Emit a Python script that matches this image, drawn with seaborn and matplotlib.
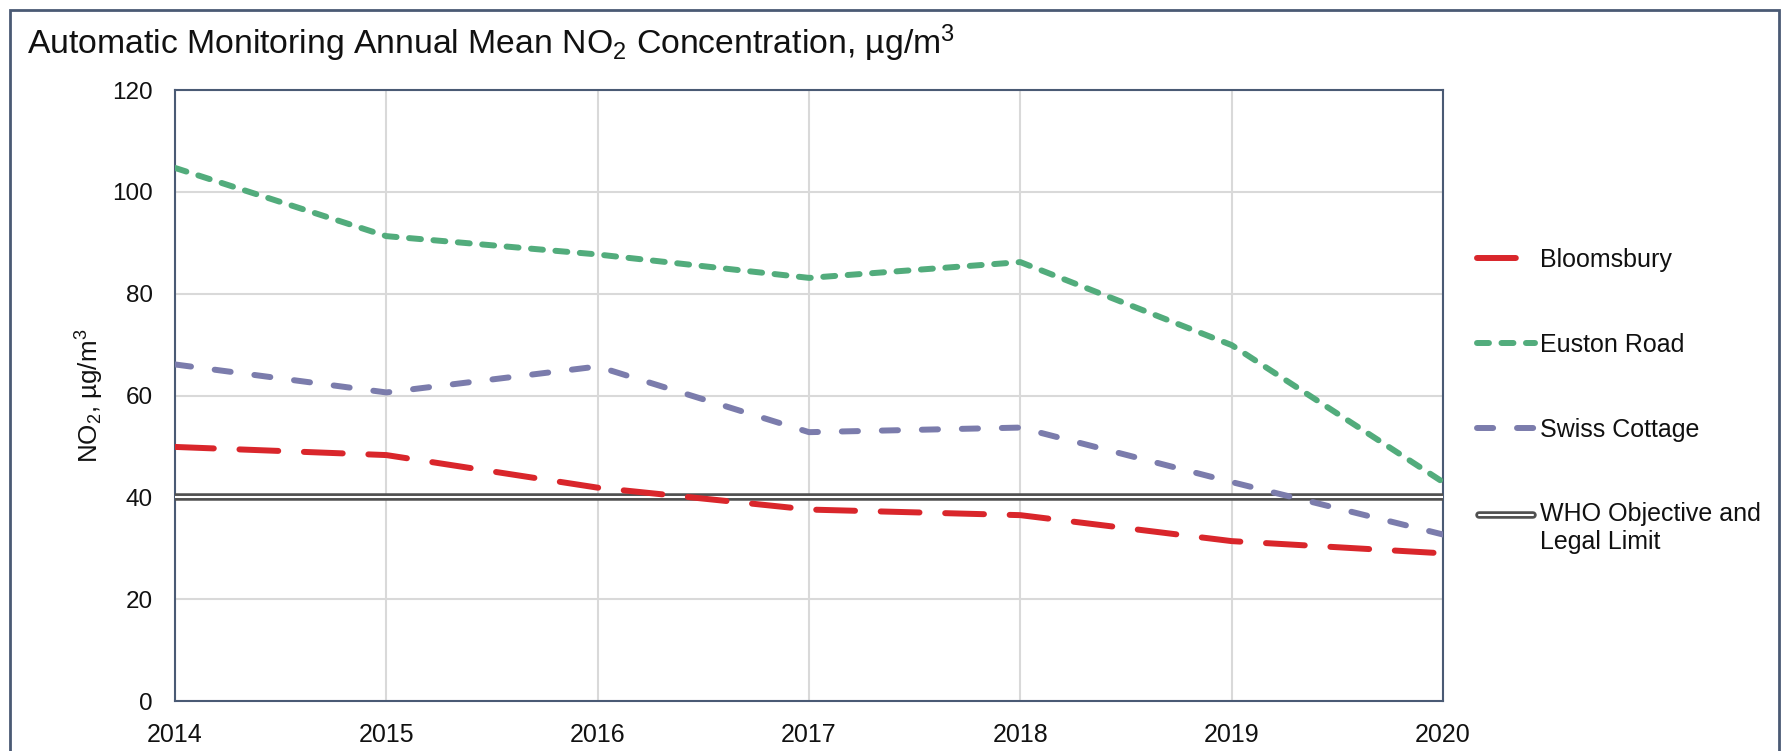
import matplotlib
matplotlib.use("Agg")
import matplotlib.pyplot as plt
import seaborn as sns
import pandas as pd
from matplotlib.lines import Line2D
from matplotlib.patches import Rectangle
from matplotlib.legend_handler import HandlerBase

# ---------------- data ----------------
years = [2014, 2015, 2016, 2017, 2018, 2019, 2020]
bloomsbury = [49.9, 48.3, 41.9, 37.6, 36.5, 31.4, 29.0]
euston_road = [104.7, 91.3, 87.7, 83.1, 86.2, 69.9, 43.0]
swiss_cottage = [66.1, 60.6, 65.7, 52.8, 53.7, 43.0, 32.7]
who_limit = 40
series_names = ["Bloomsbury", "Euston Road", "Swiss Cottage"]
who_label = "WHO Objective and\nLegal Limit"
y_ticks = [0, 20, 40, 60, 80, 100, 120]

title = "Automatic Monitoring Annual Mean NO$_2$ Concentration, µg/m$^3$"
ylabel = "NO$_2$, µg/m$^3$"

# ---------------- style ----------------
sns.set_theme(style="white")
plt.rcParams["font.family"] = ["Liberation Sans", "DejaVu Sans"]
plt.rcParams["mathtext.fontset"] = "custom"
plt.rcParams["mathtext.rm"] = "Liberation Sans"
plt.rcParams["mathtext.it"] = "Liberation Sans"
plt.rcParams["mathtext.bf"] = "Liberation Sans:bold"
plt.rcParams["mathtext.default"] = "regular"

W, H = 1783, 751
fig = plt.figure(figsize=(W / 100, H / 100), dpi=100)
fig.patch.set_facecolor("white")

ax = fig.add_axes([175 / W, 1 - 701 / H, (1443 - 175) / W, (701 - 90) / H])

colors = {"Bloomsbury": "#D9262B", "Euston Road": "#52AC7C", "Swiss Cottage": "#7B7CAC"}
styles = {
    "Bloomsbury": (0, (6.5, 4.3)),
    "Euston Road": (0, (2.0, 2.1)),
    "Swiss Cottage": (0, (2.7, 4.0)),
}
values = {"Bloomsbury": bloomsbury, "Euston Road": euston_road, "Swiss Cottage": swiss_cottage}

lw = 4.3
WHO_DARK, WHO_DARK_W, WHO_INNER_W = "#505050", 5.4, 1.5
handles = []
for name in series_names:
    df = pd.DataFrame({"year": years, "value": values[name]})
    sns.lineplot(data=df, x="year", y="value", ax=ax, color=colors[name],
                 linewidth=lw, linestyle=styles[name], dash_capstyle="round",
                 solid_capstyle="round", legend=False, zorder=4)
    handles.append(Line2D([], [], color=colors[name], linewidth=lw,
                          linestyle=styles[name], dash_capstyle="round",
                          solid_capstyle="round"))

# WHO double line
ax.axhline(who_limit, color=WHO_DARK, linewidth=WHO_DARK_W, zorder=3)
ax.axhline(who_limit, color="white", linewidth=WHO_INNER_W, zorder=3.1)


class DoubleLineHandler(HandlerBase):
    """Double line handle, aligned with the first line of a two-line label."""

    def __init__(self, shift, **kw):
        super().__init__(**kw)
        self.shift = shift

    def create_artists(self, legend, orig_handle, xdescent, ydescent, width,
                       height, fontsize, trans):
        y = height / 2 - ydescent + self.shift
        arts = []
        for c, w in ((WHO_DARK, WHO_DARK_W), ("white", WHO_INNER_W)):
            ln = Line2D([-xdescent + 1.5, -xdescent + width - 1.5], [y, y],
                        color=c, linewidth=w, solid_capstyle="round")
            ln.set_transform(trans)
            arts.append(ln)
        return arts


who_handle = Line2D([], [])

ax.set_xlim(years[0], years[-1])
ax.set_ylim(y_ticks[0], y_ticks[-1])
ax.set_xticks(years)
ax.set_xticklabels([str(y) for y in years])
ax.set_yticks(y_ticks)
ax.grid(True, color="#D9D9D9", linewidth=1.5, zorder=0)
ax.set_axisbelow(True)
for sp in ax.spines.values():
    sp.set_color("#4A5A74")
    sp.set_linewidth(1.5)
    sp.set_visible(True)
ax.tick_params(axis="both", length=0, colors="#111111")
ax.tick_params(axis="y", labelsize=17.5, pad=16)
ax.tick_params(axis="x", labelsize=18, pad=16)
ax.set_xlabel("")
ax.set_ylabel(ylabel, fontsize=18.7, color="#111111", labelpad=4)

# title
fig.text(27 / W, 1 - 54 / H, title, fontsize=24.3, color="#111111", ha="left", va="baseline")

# legend
leg = fig.legend(handles + [who_handle], series_names + [who_label],
                 loc="upper left", bbox_to_anchor=(1477 / W, 1 - 248 / H),
                 frameon=False, fontsize=18, handlelength=2.32, handletextpad=0.2,
                 labelspacing=2.43, borderpad=0, borderaxespad=0,
                 handler_map={who_handle: DoubleLineHandler(shift=10.2)})
for t in leg.get_texts():
    t.set_color("#111111")

# outer frame
fig.patches.append(Rectangle((10 / W, -0.1), (1779 - 10) / W, 1.1 - 10 / H,
                             transform=fig.transFigure, fill=False,
                             edgecolor="#4A5A74", linewidth=2.0, zorder=10))

fig.savefig("out.png", dpi=100)
